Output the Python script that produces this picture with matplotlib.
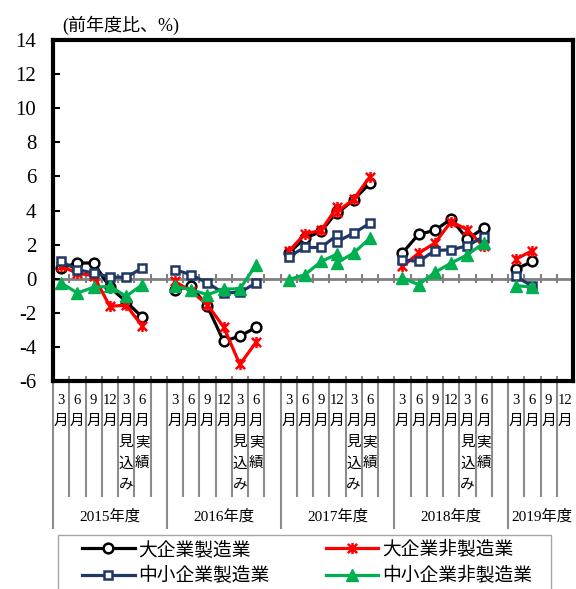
import numpy as np
import matplotlib
matplotlib.use("Agg")
import matplotlib.pyplot as plt
from matplotlib.path import Path
from matplotlib.patches import Rectangle
import matplotlib.transforms as mtransforms

plt.rcParams['font.family'] = ['Liberation Serif', 'Noto Sans CJK JP']
plt.rcParams['axes.unicode_minus'] = False

# category labels (one char per line), 7 slots per fiscal year, last one blank
months = ["3月", "6月", "9月", "12月", "3月見込み", "6月実績", ""]
years = ["2015年度", "2016年度", "2017年度", "2018年度", "2019年度"]
cats = months * 4 + ["3月", "6月", "9月", "12月"]

series_names = ["大企業製造業", "大企業非製造業", "中小企業製造業", "中小企業非製造業"]

# 前年度比 (%), None = no data / gap slot
large_mfg = [0.63, 0.92, 0.92, -0.5, -1.35, -2.26, None,
             -0.64, -0.45, -1.62, -3.67, -3.37, -2.85, None,
             1.5, 2.38, 2.77, 3.95, 4.62, 5.6, None,
             1.5, 2.61, 2.83, 3.51, 2.32, 2.96, None,
             0.57, 1.01, None, None]
large_nonmfg = [0.72, 0.33, 0.17, -1.62, -1.55, -2.79, None,
                -0.16, -0.74, -1.52, -2.83, -5.03, -3.72, None,
                1.6, 2.63, 2.83, 4.23, 4.66, 5.98, None,
                0.72, 1.5, 2.09, 3.35, 2.87, 1.89, None,
                1.15, 1.65, None, None]
small_mfg = [1.01, 0.53, 0.33, 0.1, 0.08, 0.63, None,
             0.53, 0.23, -0.25, -0.84, -0.8, -0.25, None,
             1.3, 1.83, 1.83, 2.57, 2.67, 3.25, None,
             1.11, 1.01, 1.65, 1.7, 1.93, 2.47, None,
             0.14, -0.45, None, None]
small_nonmfg = [-0.25, -0.84, -0.5, -0.45, -1.03, -0.35, None,
                -0.45, -0.64, -0.94, -0.6, -0.6, 0.82, None,
                -0.05, 0.23, 1.01, 1.45, 1.5, 2.38, None,
                0.04, -0.35, 0.37, 0.92, 1.4, 2.09, None,
                -0.41, -0.49, None, None]
# 2017年12月調査 新ベース (sample revision)
dec2017_new = [3.85, 3.94, 2.18, 0.95]

styles = [
    dict(color="black", marker="o", mfc="white", mec="black", ms=7, mew=1.8),
    dict(color="#ff0000", marker=Path([(-1, -1), (1, 1), (-1, 1), (1, -1), (0, -1.2), (0, 1.2)],
                                       [Path.MOVETO, Path.LINETO, Path.MOVETO, Path.LINETO, Path.MOVETO, Path.LINETO]),
         mfc="none", mec="#ff0000", ms=8, mew=1.8),
    dict(color="#1f3864", marker="s", mfc="white", mec="#1f3864", ms=5.5, mew=1.8),
    dict(color="#00b050", marker="^", mfc="#00b050", mec="#00b050", ms=8, mew=1),
]

fig = plt.figure(figsize=(5.76, 5.89), dpi=100)
ax = fig.add_axes([53 / 576, (589 - 381) / 589, 520 / 576, 341 / 589])

x = np.arange(len(cats))
handles = []
for vals, new, st in zip([large_mfg, large_nonmfg, small_mfg, small_nonmfg], dec2017_new, styles):
    y = np.array([np.nan if v is None else v for v in vals], dtype=float)
    # FY2017: old sample up to 12月, new sample from 12月 on
    y_old = y.copy()
    y_old[18:21] = np.nan
    line, = ax.plot(x, y_old, lw=2.3, **st)
    seg_x = [17, 18, 19]
    seg_y = [new, y[18], y[19]]
    ax.plot(seg_x, seg_y, lw=2.3, **st)
    handles.append(line)

ax.set_xlim(-0.5, len(cats) - 0.5)
ax.set_ylim(-6, 14)
ax.set_xticks([])
yt = np.arange(-6, 15, 2)
ax.set_yticks(yt)
ax.set_yticklabels([str(v) for v in yt], fontsize=15)
ax.tick_params(axis="y", direction="in", length=5, width=1.5, color="black", pad=12)
for sp in ax.spines.values():
    sp.set_linewidth(3)
    sp.set_color("black")

# zero line with category ticks
ax.axhline(0, color="#808080", lw=2, zorder=1)
bounds = np.arange(len(cats) - 1) + 0.5
ax.vlines(bounds, -0.25, 0.25, color="#808080", lw=1.5, zorder=1)

# category axis below the plot
trans = mtransforms.blended_transform_factory(ax.transData, ax.transAxes)
def px2ax(ypx):
    return (381 - ypx) / 341

group_bounds = [-0.5, 6.5, 13.5, 20.5, 27.5]
for b in np.arange(len(cats)) - 0.5:
    bottom = 528 if b in group_bounds else 496
    ax.plot([b, b], [px2ax(377), px2ax(bottom)], color="#8c8c8c", lw=1.5,
            transform=trans, clip_on=False, zorder=0)

for i, lab in enumerate(cats):
    tokens = []
    if lab:
        num = lab.split("月")[0]
        tokens = [num] + list(lab[len(num):])
    for j, t in enumerate(tokens):
        ax.text(i, px2ax(400 + 21.3 * j), t, transform=trans, ha="center", va="center",
                fontsize=10.5)

year_centers = [3, 10, 17, 24, 29.6]
for yc, yl in zip(year_centers, years):
    ax.text(yc, px2ax(516), yl, transform=trans, ha="center", va="center", fontsize=11)

fig.text(62 / 576, 1 - 25 / 589, "(前年度比、%)", ha="left", va="center", fontsize=13)

# legend
fig.patches.append(Rectangle((58 / 576, -0.05), (551 - 58) / 576, 0.05 + 1 - 535 / 589,
                             transform=fig.transFigure, fill=False, edgecolor="#a6a6a6", lw=1))
order = [0, 2, 1, 3]
fig.legend([handles[k] for k in order], [series_names[k] for k in order],
           loc="upper left", bbox_to_anchor=(82 / 576, 1 - 541 / 589), ncol=2,
           frameon=False, handlelength=2.8, handletextpad=0.2, columnspacing=3.0,
           labelspacing=0.45, borderpad=0, borderaxespad=0, fontsize=13.5)

fig.savefig("out.png", dpi=100)
